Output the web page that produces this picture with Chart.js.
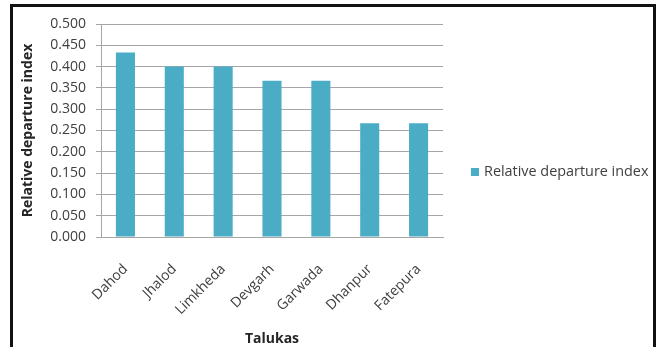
<!DOCTYPE html>
<html>
<head>
<meta charset="utf-8">
<script src="https://cdn.jsdelivr.net/npm/chart.js@4/dist/chart.umd.min.js"></script>
<style>
  html, body { margin: 0; padding: 0; background: #fff; overflow: hidden; }
  #frame {
    position: absolute; left: 10px; top: 4px; width: 640px; height: 360px;
    border: 3px solid #111; border-bottom: none;
  }
  #chart { position: absolute; left: 0; top: 0; }
</style>
</head>
<body>
<div id="frame"></div>
<canvas id="chart" width="657" height="347"></canvas>
<script>
// Relative departure index by taluka
const talukas = ["Dahod", "Jhalod", "Limkheda", "Devgarh", "Garwada", "Dhanpur", "Fatepura"];
const departureIndex = [0.433, 0.400, 0.400, 0.367, 0.367, 0.267, 0.267];
const yTicks = [0, 0.05, 0.1, 0.15, 0.2, 0.25, 0.3, 0.35, 0.4, 0.45, 0.5];

const FONT = "'Open Sans', sans-serif";

// Excel-style legend sitting to the right of the plot
const sideLegend = {
  id: "sideLegend",
  afterDraw(chart) {
    const ctx = chart.ctx;
    const ds = chart.data.datasets[0];
    const x = chart.chartArea.right + 28;
    const y = 172;
    ctx.save();
    ctx.fillStyle = ds.backgroundColor;
    ctx.fillRect(x, y - 4, 8, 8);
    ctx.fillStyle = "#404040";
    ctx.font = "14.4px " + FONT;
    ctx.textBaseline = "middle";
    ctx.fillText(ds.label, x + 13, y);
    ctx.restore();
  }
};

new Chart(document.getElementById("chart"), {
  type: "bar",
  data: {
    labels: talukas,
    datasets: [
      {
        label: "Relative departure index",
        data: departureIndex,
        backgroundColor: "#4bacc6",
        categoryPercentage: 1,
        barPercentage: 0.39
      }
    ]
  },
  options: {
    responsive: false,
    animation: false,
    layout: { padding: { left: 14, top: 24, right: 214, bottom: 0 } },
    plugins: {
      legend: { display: false },
      tooltip: { enabled: false }
    },
    scales: {
      x: {
        grid: { display: false },
        border: { color: "#a6a6a6" },
        ticks: {
          color: "#404040",
          font: { family: FONT, size: 14 },
          minRotation: 45,
          maxRotation: 45,
          autoSkip: false,
          padding: 16
        },
        title: {
          display: true,
          text: "Talukas",
          color: "#262626",
          font: { family: FONT, size: 14, weight: "bold" },
          padding: { top: 0, bottom: 0 }
        },
        afterFit: (scale) => { scale.height = 110; }
      },
      y: {
        min: 0,
        max: 0.5,
        afterBuildTicks: (scale) => { scale.ticks = yTicks.map((v) => ({ value: v })); },
        grid: { color: "#a6a6a6", tickLength: 5 },
        border: { color: "#a6a6a6" },
        ticks: {
          color: "#404040",
          font: { family: FONT, size: 14 },
          padding: 10,
          callback: (v) => Number(v).toFixed(3)
        },
        title: {
          display: true,
          text: "Relative departure index",
          color: "#262626",
          font: { family: FONT, size: 14, weight: "bold" },
          padding: { top: 6, bottom: 0 }
        },
        afterFit: (scale) => { scale.width = 87; }
      }
    }
  },
  plugins: [sideLegend]
});
</script>
</body>
</html>
